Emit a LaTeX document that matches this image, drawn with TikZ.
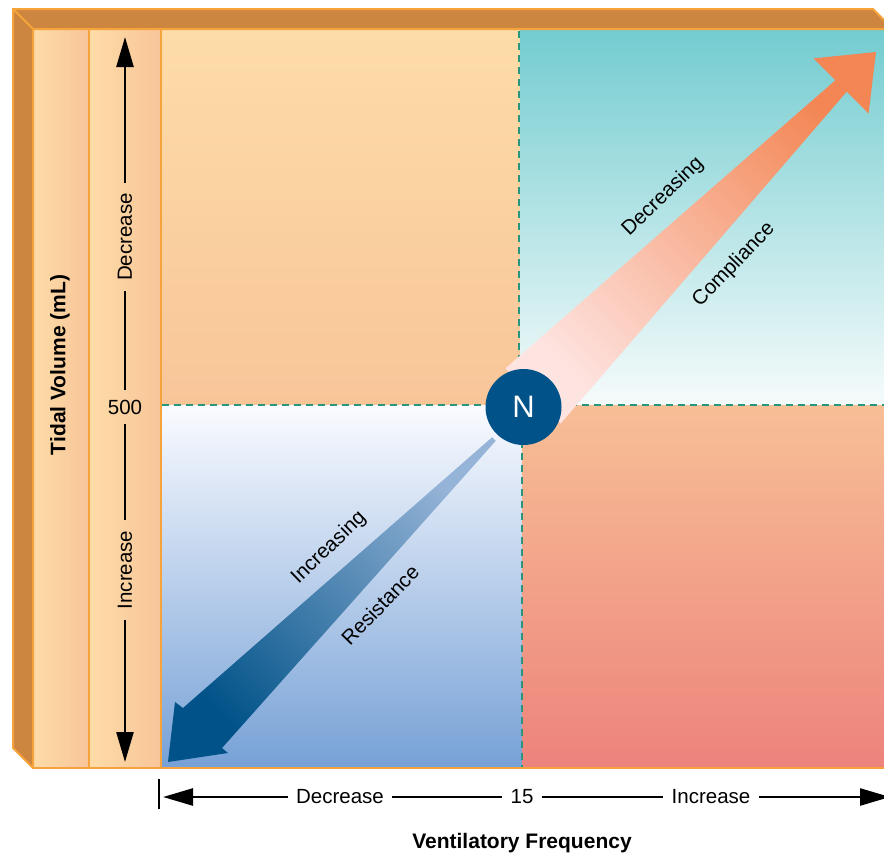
\documentclass[tikz,border=0pt]{standalone}
\usepackage{fontspec}
\setmainfont{Liberation Sans}
\usetikzlibrary{arrows.meta}
\definecolor{frameD}{RGB}{205,134,64}
\definecolor{frameL}{RGB}{247,163,60}
\definecolor{peachA}{RGB}{253,220,167}
\definecolor{peachB}{RGB}{248,197,153}
\definecolor{tealA}{RGB}{115,204,208}
\definecolor{tealB}{RGB}{246,251,251}
\definecolor{blueA}{RGB}{250,251,255}
\definecolor{blueB}{RGB}{118,161,214}
\definecolor{salA}{RGB}{247,191,150}
\definecolor{salB}{RGB}{237,131,124}
\definecolor{dashc}{RGB}{40,150,125}
\definecolor{nblue}{RGB}{0,82,136}
\definecolor{orA}{RGB}{254,228,225}
\definecolor{orM}{RGB}{248,176,140}
\definecolor{orB}{RGB}{243,134,84}
\definecolor{blA}{RGB}{150,180,215}
\definecolor{blM}{RGB}{40,115,165}
\begin{document}
\begin{tikzpicture}[x=1pt,y=-1pt,
  lbl/.style={font=\fontsize{20.5}{24}\selectfont, inner sep=0pt},
  boldlbl/.style={inner sep=0pt, font=\fontsize{21}{24}\selectfont\bfseries},
  axlbl/.style={lbl, inner xsep=10pt},
  blbl/.style={lbl, inner xsep=8pt},
  axisline/.style={line width=2.5pt, black},
  bigtip/.style={-{Triangle[length=30pt,width=17pt]}},
  quad/.style={draw=none},
  framebar/.style={fill=frameD, draw=frameL, line width=2pt, line join=round},
  borderline/.style={draw=frameL, line width=2.5pt},
  quadline/.style={draw=dashc, line width=1.3pt, dash pattern=on 7pt off 5pt},
  arrowtxt/.style={lbl}
]
\useasboundingbox (0,0) rectangle (884,854);
\clip (0,0) rectangle (884,854);

% quadrants
\shade[quad, top color=peachA, bottom color=peachB] (161,30) rectangle (520,405);
\shade[quad, top color=tealA, bottom color=tealB] (520,30) rectangle (900,405);
\shade[quad, top color=blueA, bottom color=blueB] (161,405) rectangle (522,768);
\shade[quad, top color=salA, bottom color=salB] (522,405) rectangle (900,768);

% left columns
\shade[left color=peachA, right color=peachB] (33,30) rectangle (89,768);
\shade[left color=peachA, right color=peachB] (89,30) rectangle (161,768);

% frame bars
\filldraw[framebar] (13,9) -- (873,9) -- (893,29) -- (33,29) -- cycle;
\filldraw[framebar] (13,9) -- (33,29) -- (33,768) -- (13,748) -- cycle;
\draw[borderline] (33,29) rectangle (900,768);
\draw[borderline] (89,29) -- (89,768);
\draw[borderline] (161,29) -- (161,768);

% dashed quadrant lines
\draw[quadline] (519,31) -- (519,405);
\draw[quadline] (162,405) -- (884,405);
\draw[quadline] (522,405) -- (522,767);

% orange arrow (decreasing compliance)
\shade[left color=orA, middle color=orM, right color=orB, shading angle=135]
  (505.4,368.4) -- (835.3,80.3) -- (813.4,58.4) -- (876,52) -- (868.6,113.6)
  -- (846.7,91.7) -- (560.6,423.6) -- cycle;

% blue arrow (increasing resistance)
\shade[left color=nblue, middle color=blM, right color=blA, shading angle=135]
  (492.2,437.2) -- (183,708) -- (175,702) -- (168,762) -- (228,753)
  -- (222,748) -- (495.8,440.8) -- cycle;

% N circle
\node[circle, fill=nblue, minimum size=76pt, inner sep=0pt, text=white,
  font=\fontsize{31}{36}\selectfont] (N) at (523.5,407) {N};

% arrow labels
\node[arrowtxt, rotate=44] (t1) at (663,197) {Decreasing};
\node[arrowtxt, rotate=46] (t2) at (734,265) {Compliance};
\node[arrowtxt, rotate=44] (t3) at (329,548) {Increasing};
\node[arrowtxt, rotate=46] (t4) at (380,605) {Resistance};

% left (tidal volume) axis
\node[axlbl, rotate=90] (ldec) at (125,237) {Decrease};
\node[lbl, inner ysep=9.5pt] (l500) at (125,407) {500};
\node[axlbl, rotate=90] (linc) at (125,570) {Increase};
\coordinate (ltop) at (125,37);
\coordinate (lbot) at (125,762);
\draw[axisline, bigtip] (ldec.east) -- (ltop);
\draw[axisline] (ldec.west) -- (l500.north);
\draw[axisline] (l500.south) -- (linc.east);
\draw[axisline, bigtip] (linc.west) -- (lbot);
\node[boldlbl, rotate=90] (tv) at (60,365) {Tidal Volume (mL)};

% bottom (frequency) axis
\node[blbl] (bdec) at (340,797) {Decrease};
\node[blbl] (b15) at (522,797) {15};
\node[blbl] (binc) at (711,797) {Increase};
\coordinate (bleft) at (163,797);
\coordinate (bright) at (890,797);
\coordinate (tickT) at (159,779);
\coordinate (tickB) at (159,809);
\draw[line width=1.3pt] (tickT) -- (tickB);
\draw[axisline, bigtip] (bdec.west) -- (bleft);
\draw[axisline] (bdec.east) -- (b15.west);
\draw[axisline] (b15.east) -- (binc.west);
\draw[axisline, bigtip] (binc.east) -- (bright);
\node[boldlbl] (vf) at (522,843) {Ventilatory Frequency};
\end{tikzpicture}
\end{document}
